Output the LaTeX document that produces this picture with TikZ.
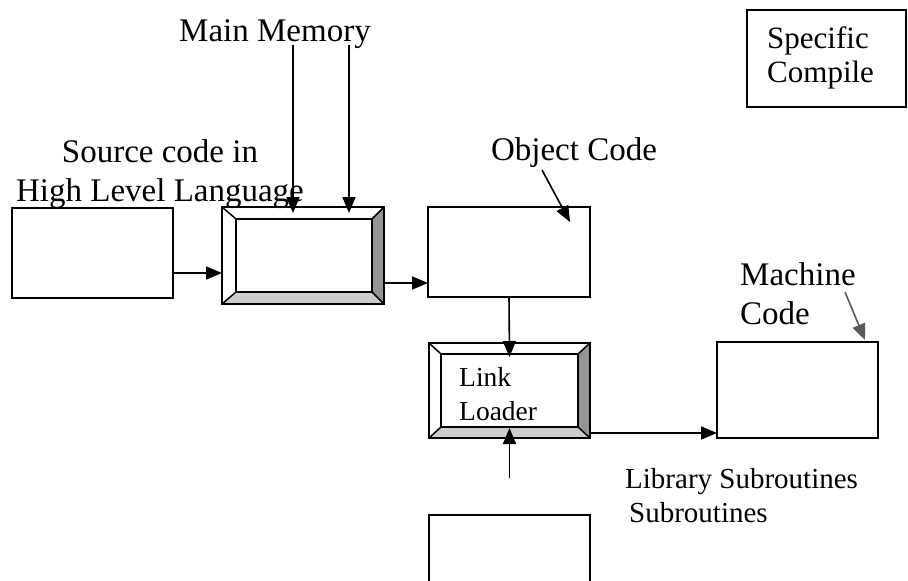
\documentclass[tikz,border=0pt]{standalone}
\usepackage{fontspec}
\setmainfont{Liberation Serif}
\usetikzlibrary{arrows.meta,calc}

\tikzset{
  box/.style={draw, line width=2pt, minimum width=161pt, minimum height=90pt, inner sep=0pt, outer sep=0pt},
  shell/.style={inner sep=0pt, outer sep=0pt},
  bigtxt/.style={inner sep=0pt, font=\fontsize{33}{39}\selectfont},
  arr/.style={line width=1.6pt, -{Triangle[length=16pt,width=13pt]}}
}

\begin{document}
\begin{tikzpicture}[x=1pt, y=-1pt]

\path[use as bounding box] (0,0) rectangle (908,581);
\clip (0,0) rectangle (908,581);

\node[box] (src) at (92.5,253) {};
\node[shell, minimum width=162pt, minimum height=97pt] (cmp) at (303,255.5) {};
\node[shell, minimum width=136pt, minimum height=73pt] (cmp-in) at (304,255.5) {};
\node[box, minimum width=162pt] (obj) at (509,252) {};
\node[shell, minimum width=161pt, minimum height=95pt] (lnk) at (509.5,390.5) {};
\node[shell, minimum width=137pt, minimum height=73pt] (lnk-in) at (509.5,390.5) {};
\node[box, minimum height=96pt] (mach) at (797.5,390) {};
\node[box] (lib) at (509.5,560) {};
\node[box, minimum width=159pt, minimum height=97pt] (spec) at (826.5,58) {};

% bevelled boxes
\foreach \b in {cmp,lnk} {
  \fill[black!42] (\b.north east) -- (\b.south east) -- (\b-in.south east) -- (\b-in.north east) -- cycle;
  \fill[black!20] (\b.south west) -- (\b.south east) -- (\b-in.south east) -- (\b-in.south west) -- cycle;
  \draw[line width=2pt] (\b.north west) rectangle (\b.south east);
  \draw[line width=1.5pt] (\b-in.north west) rectangle (\b-in.south east);
  \foreach \c in {north west, north east, south west, south east}
    \draw[line width=1.5pt] (\b.\c) -- (\b-in.\c);
}

\node[bigtxt, anchor=base] (mainlbl) at (275,41) {Main Memory};
\node[bigtxt, align=center] (srclbl) at (160,174) {Source code in\\High Level Language};
\node[bigtxt, anchor=base] (objlbl) at (574,160) {Object Code};
\node[bigtxt, align=left, anchor=west] (machlbl) at (740,294) {Machine\\Code};
\node[inner sep=0pt, align=left, anchor=west, font=\fontsize{31}{34}\selectfont] (speclbl) at (767,58) {Specific\\Compile};
\node[inner sep=0pt, align=left, anchor=west, font=\fontsize{27.5}{34}\selectfont] (lnklbl) at (459,394) {Link\\Loader};
\node[inner sep=0pt, align=left, anchor=west, font=\fontsize{29}{34}\selectfont] (liblbl) at (625,496) {Library Subroutines\\\hspace*{4pt}Subroutines};

\coordinate (mm1) at (293,45);
\coordinate (mm2) at (349,45);
\coordinate (objtail) at (542,170);
\coordinate (machtail) at (845,292);
\coordinate (libtail) at (509.5,478);

\draw[arr] (mm1) -- ($(mm1 |- cmp.north)+(0,6)$);
\draw[arr] (mm2) -- ($(mm2 |- cmp.north)+(0,6)$);
\draw[arr] ($(src.east)+(0,20)$) -- ($(cmp.west)+(0,17.5)$);
\draw[arr] ($(cmp.east)+(0,27.5)$) -- ($(obj.west)+(0,31)$);
\draw[arr] (objtail) -- ($(obj.north east)+(-20,15)$);
\draw[arr] (obj.south) -- ($(lnk.north)+(0,14)$);
\draw[arr] (libtail) -- ($(lnk.south)+(0,-10)$);
\draw[arr] ($(lnk.east)+(0,42.5)$) -- ($(mach.west)+(0,43)$);
\draw[arr, black!65] (machtail) -- ($(mach.north east)+(-13,-2)$);

\end{tikzpicture}
\end{document}
